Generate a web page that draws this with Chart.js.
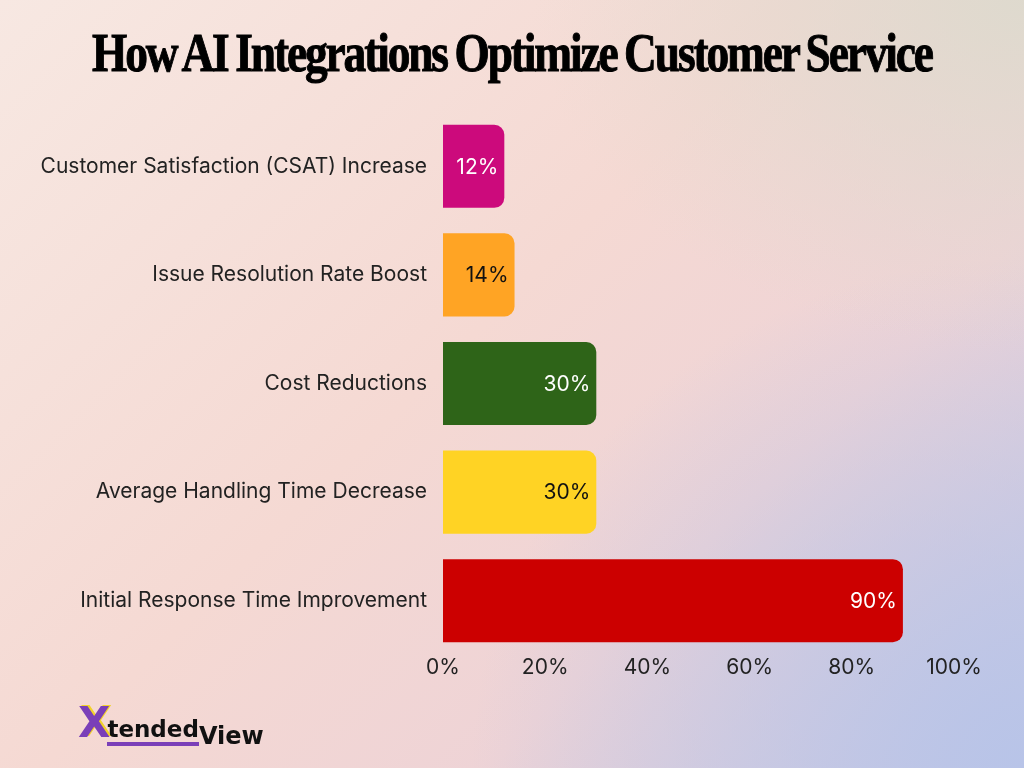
<!DOCTYPE html>
<html>
<head>
<meta charset="utf-8">
<script src="https://cdn.jsdelivr.net/npm/chart.js@4"></script>
<style>
  html, body { margin: 0; padding: 0; }
  body {
    width: 1024px; height: 768px; overflow: hidden; position: relative;
    background:
      radial-gradient(ellipse 700px 500px at 1024px 0px, rgba(220,218,205,0.9), rgba(220,218,205,0) 70%),
      radial-gradient(ellipse 650px 600px at 1024px 768px, rgba(184,196,232,1), rgba(184,196,232,0) 85%),
      linear-gradient(135deg, #f7e8e2 0%, #f5d9d3 45%, #eed3d6 70%, #c9c9e3 100%);
  }
  #title {
    position: absolute; left: 0; top: 22px; width: 1024px; text-align: center;
    font-family: "Liberation Serif", "DejaVu Serif", serif; font-weight: bold;
    font-size: 54px; letter-spacing: -2.5px; color: #000; white-space: nowrap;
    -webkit-text-stroke: 1px #000;
  }
  #title span { display: inline-block; transform: scaleX(0.84); transform-origin: center; word-spacing: -2px; }
  canvas { position: absolute; left: 0; top: 0; }
  #logo {
    position: absolute; left: 78px; top: 698px; font-family: "DejaVu Sans", sans-serif;
    font-weight: bold; white-space: nowrap;
  }
  #logo .x { color: #7a3fb8; font-size: 42px; letter-spacing: -3px; text-shadow: 2px -1px 0 #f2d22a; }
  #logo .t { color: #111; font-size: 23px; border-bottom: 4px solid #7a3fb8; }
  #logo .v { color: #111; font-size: 24px; position: relative; top: 7px; }
</style>
</head>
<body>
<div id="title"><span>How AI Integrations Optimize Customer Service</span></div>
<canvas id="chart" width="1024" height="768"></canvas>
<div id="logo"><span class="x">X</span><span class="t">tended</span><span class="v">View</span></div>
<script>
const categories = [
  "Customer Satisfaction (CSAT) Increase",
  "Issue Resolution Rate Boost",
  "Cost Reductions",
  "Average Handling Time Decrease",
  "Initial Response Time Improvement"
];
const values = [12, 14, 30, 30, 90];
const barColors = ["#cc0a7c", "#ffa424", "#2e6418", "#ffd324", "#cc0000"];
const labelColors = ["#ffffff", "#111111", "#ffffff", "#111111", "#ffffff"];
const xTicks = [0, 20, 40, 60, 80, 100];

// labels inside the end of each bar
const barLabels = {
    id: "barLabels",
    afterDatasetsDraw(chart) {
        const ctx = chart.ctx;
        const meta = chart.getDatasetMeta(0);
        ctx.save();
        ctx.font = "21px Inter";
        ctx.textAlign = "right";
        ctx.textBaseline = "middle";
        meta.data.forEach((bar, i) => {
            ctx.fillStyle = labelColors[i];
            ctx.fillText(values[i] + "%", bar.x - 6, bar.y + 1);
        });
        ctx.restore();
    }
};

const ctx = document.getElementById("chart").getContext("2d");
new Chart(ctx, {
    type: "bar",
    data: {
        labels: categories,
        datasets: [{
            data: values,
            backgroundColor: barColors,
            borderRadius: { topRight: 10, bottomRight: 10 },
            borderSkipped: false,
            categoryPercentage: 0.85,
            barPercentage: 0.9
        }]
    },
    options: {
        indexAxis: "y",
        responsive: false,
        animation: false,
        layout: { padding: { left: 0, right: 70, top: 112, bottom: 85 } },
        plugins: { legend: { display: false }, tooltip: { enabled: false } },
        scales: {
            x: {
                min: 0, max: 100,
                afterBuildTicks: axis => { axis.ticks = xTicks.map(v => ({ value: v })); },
                afterFit: axis => { axis.height = 28; },
                grid: { display: false, drawTicks: false },
                border: { display: false },
                ticks: {
                    padding: 0,
                    color: "#222",
                    font: { family: "Inter", size: 21 },
                    callback: v => v + "%"
                }
            },
            y: {
                afterFit: axis => { axis.width = 443; },
                grid: { display: false, drawTicks: false },
                border: { display: false },
                ticks: {
                    padding: 16,
                    color: "#222",
                    font: { family: "Inter", size: 21 }
                }
            }
        }
    },
    plugins: [barLabels]
});
</script>
</body>
</html>
